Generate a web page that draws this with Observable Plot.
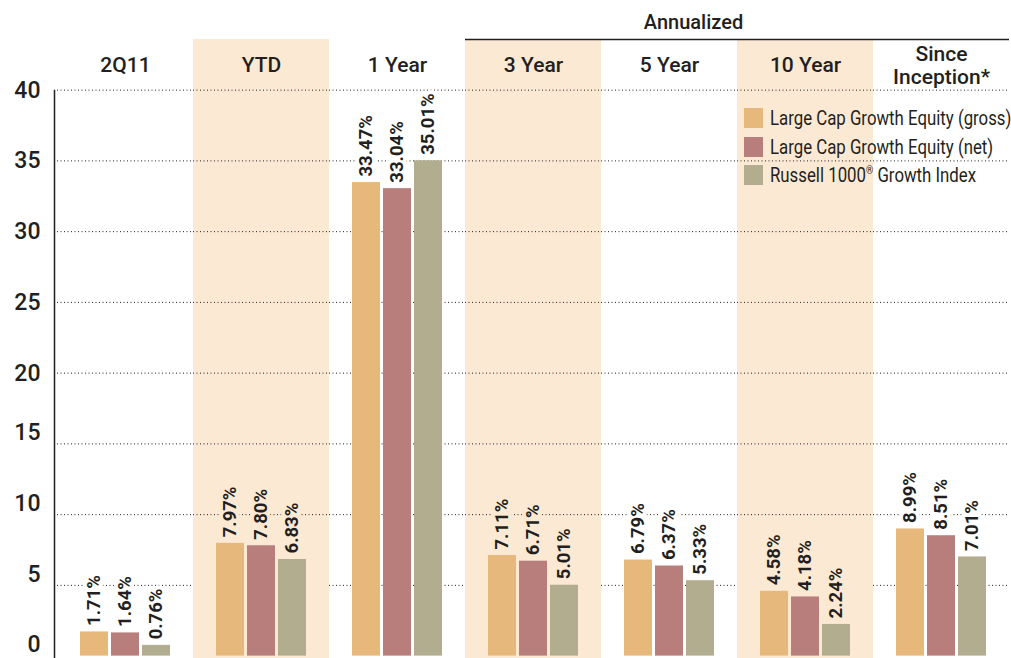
<!DOCTYPE html>
<html>
<head>
<meta charset="utf-8">
<script src="https://cdn.jsdelivr.net/npm/d3@7"></script>
<script src="https://cdn.jsdelivr.net/npm/@observablehq/plot@0.6"></script>
<style>
  html, body { margin: 0; padding: 0; background: #fff; }
  #wrap { position: relative; width: 1011px; height: 658px; overflow: hidden; font-family: Roboto, "Noto Sans", sans-serif; color: #231f20; }
  #legend { position: absolute; left: 744px; top: 104px; }
  .row { display: flex; align-items: center; height: 28.5px; white-space: nowrap; }
  .sw { width: 19px; height: 20px; margin-right: 7px; flex: none; }
  .lab { display: inline-block; font-size: 20px; transform: scaleX(0.84); transform-origin: left center; }
  .lab sup { font-size: 11px; vertical-align: 8px; line-height: 0; }
</style>
</head>
<body>
<div id="wrap"><div id="legend"></div></div>
<script>
// ---- data ----
const categories = ["2Q11", "YTD", "1 Year", "3 Year", "5 Year", "10 Year", "Since\nInception*"];
const series = ["Large Cap Growth Equity (gross)", "Large Cap Growth Equity (net)", "Russell 1000® Growth Index"];
const gross   = [1.71, 7.97, 33.47, 7.11, 6.79, 4.58, 8.99];
const net     = [1.64, 7.80, 33.04, 6.71, 6.37, 4.18, 8.51];
const russell = [0.76, 6.83, 35.01, 5.01, 5.33, 2.24, 7.01];
const shaded = ["YTD", "3 Year", "10 Year"];
const annualized = ["3 Year", "5 Year", "10 Year", "Since\nInception*"];
const groupTitle = "Annualized";
const yTicks = [0, 5, 10, 15, 20, 25, 30, 35, 40];
const colors = ["#e7b87c", "#b77e7c", "#b2ad8f"];

// ---- layout / style ----
const BAND = "#fbe9d4";
const INK = "#231f20";
const Y_TOP = 43.58;
const seriesValues = [gross, net, russell];
const data = [];
categories.forEach((c, i) => series.forEach((s, j) => data.push({category: c, series: s, value: seriesValues[j][i]})));

const labelOpts = {
  fx: "category", x: "series", y: "value",
  text: d => d.value.toFixed(2) + "%",
  rotate: -90, textAnchor: "start", lineAnchor: "middle", dy: -6,
  fontSize: 18.5, fontWeight: 700, fill: INK, strokeWidth: 8, paintOrder: "stroke"
};
const grid = {stroke: INK, strokeWidth: 1, strokeDasharray: "1,2.5"};
const tickText = {fx: () => categories[0], y: d => d, text: d => String(d), frameAnchor: "left", dx: -17, textAnchor: "end", fontSize: 23, fontWeight: 500, fill: INK};

const plot = Plot.plot({
  width: 1011, height: 658,
  marginLeft: 55, marginRight: 0, marginTop: 39, marginBottom: 0,
  style: {fontFamily: "Roboto, 'Noto Sans', sans-serif", color: INK, background: "transparent"},
  fx: {domain: categories, padding: 0, axis: null},
  x: {domain: series, paddingInner: 0.11, paddingOuter: 0.73, axis: null},
  y: {domain: [-0.168, Y_TOP], axis: null},
  color: {domain: series, range: colors},
  marks: [
    Plot.ruleY(yTicks.filter(v => v > 0 && v <= 5), grid),
    Plot.rect(shaded, {fx: d => d, fill: BAND}),
    Plot.ruleY(yTicks.filter(v => v > 5), grid),
    Plot.barY(data, {fx: "category", x: "series", y: "value", fill: "series"}),
    Plot.text(data.filter(d => !shaded.includes(d.category)), {...labelOpts, stroke: "white"}),
    Plot.text(data.filter(d => shaded.includes(d.category)), {...labelOpts, stroke: BAND}),
    Plot.text(categories, {fx: d => d, text: d => d, frameAnchor: "top", dy: 25.5, lineAnchor: "middle", lineHeight: 1.08, fontSize: 21, fontWeight: 500, fill: INK}),
    Plot.ruleY(annualized, {fx: d => d, y: () => Y_TOP, stroke: INK, strokeWidth: 1.3}),
    Plot.text([groupTitle], {fx: () => "5 Year", text: d => d, frameAnchor: "top", dy: -17, dx: 24, lineAnchor: "middle", fontSize: 20, fontWeight: 500, fill: INK}),
    Plot.text(yTicks.filter(v => v >= 20), tickText),
    Plot.text(yTicks.filter(v => v < 20), {...tickText, dy: -11})
  ]
});

// left axis line, positioned with the plot's own y scale
const yScale = plot.scale("y");
d3.select(plot).append("line")
  .attr("x1", 54.5).attr("x2", 54.5)
  .attr("y1", yScale.apply(40)).attr("y2", 658)
  .attr("stroke", INK).attr("stroke-width", 1.5);

const wrap = document.getElementById("wrap");
wrap.insertBefore(plot, wrap.firstChild);

// legend
const legend = d3.select("#legend");
series.forEach((s, i) => {
  const row = legend.append("div").attr("class", "row");
  row.append("div").attr("class", "sw").style("background", colors[i]);
  row.append("span").attr("class", "lab").html(s.replace("®", "<sup>®</sup>"));
});
</script>
</body>
</html>
